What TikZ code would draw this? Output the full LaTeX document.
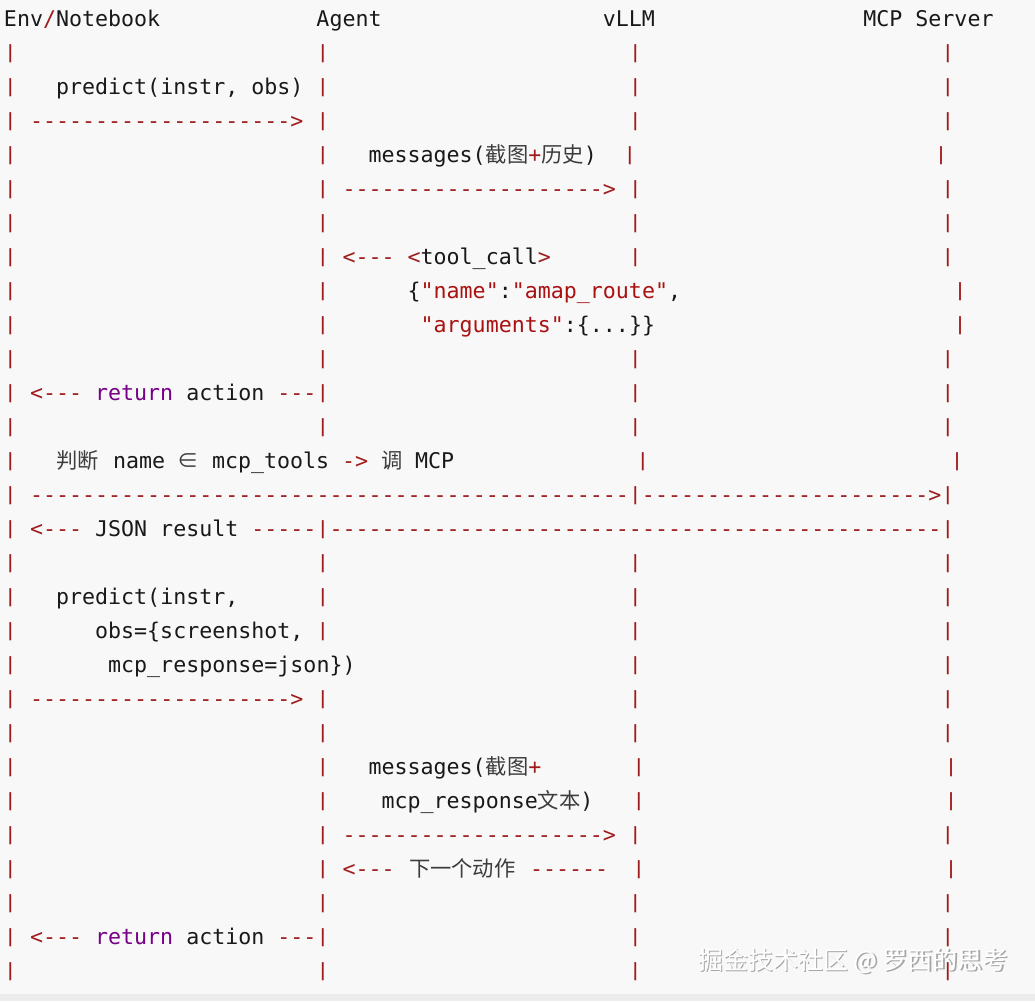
\documentclass[tikz,border=0pt]{standalone}
\usepackage{fontspec}
\setmonofont{DejaVu Sans Mono}
\newfontfamily\cjkf{Noto Sans CJK SC}
\definecolor{op}{RGB}{160,28,28}
\definecolor{str}{RGB}{170,17,17}
\definecolor{kw}{RGB}{119,0,136}
\definecolor{ink}{RGB}{25,25,25}
\definecolor{cjkc}{RGB}{60,60,60}
\definecolor{bg}{RGB}{248,248,248}
\definecolor{strip}{RGB}{236,236,236}
\newcommand\cj[1]{{\cjkf\fontsize{21.3}{26}\selectfont\color{cjkc}#1}}
\newcommand\opc[1]{\textcolor{op}{#1}}
\newcommand\stc[1]{\textcolor{str}{#1}}
\newcommand\barglyph{\raisebox{1.2pt}{\scalebox{1}[0.84]{|}}}
\ExplSyntaxOn
\NewDocumentCommand\dashes{m}{\prg_replicate:nn{#1}{-}}
\ExplSyntaxOff
\newcommand\tcol[4]{\node[tx] (#1) at ({4+(#3)*13.02},{26+34*((#2)-1)}) {#4};}
\newcommand\tpx[4]{\node[tx] (#1) at (#3,{26+34*((#2)-1)}) {#4};}
\newcommand\pcol[3]{\node[pipe] (#1) at ({4+((#3)+0.5)*13.02},{26+34*((#2)-1)}) {\barglyph};}
\newcommand\ppx[3]{\node[pipe] (#1) at (#3,{26+34*((#2)-1)}) {\barglyph};}
\begin{document}
\begin{tikzpicture}[x=1pt,y=-1pt,
  tx/.style={anchor=base west,inner sep=0pt,outer sep=0pt,font=\ttfamily\fontsize{21.63}{26}\selectfont,text=ink},
  pipe/.style={anchor=base,inner sep=0pt,outer sep=0pt,font=\ttfamily\fontsize{21.63}{26}\selectfont,text=op},
  wmark/.style={anchor=base west,inner sep=0pt,outer sep=0pt,font=\cjkf\fontsize{25}{30}\selectfont}]
\useasboundingbox (0,0) rectangle (1035,1001);
\fill[bg] (0,0) rectangle (1035,1001);
\fill[strip] (0,994) rectangle (1035,1001);
% watermark
\node[wmark,text=gray!70] (wms) at (699.5,970.5) {掘金技术社区 @ 罗西的思考};
\node[wmark,text=white] (wm) at (698,969) {掘金技术社区 @ 罗西的思考};
% header
\tcol{h1}{1}{0}{Env\opc{/}Notebook}
\tcol{h2}{1}{24}{Agent}
\tcol{h3}{1}{46}{vLLM}
\tcol{h4}{1}{66}{MCP Server}
% plain pipe rows
\foreach \r in {2,7,11,13,17,22,27,29}{
  \foreach \c in {0,24,48,72}{\pcol{p\r-\c}{\r}{\c}}
}
% row 3
\pcol{p3-0}{3}{0}\tcol{t3}{3}{4}{predict(instr, obs)}\pcol{p3-24}{3}{24}\pcol{p3-48}{3}{48}\pcol{p3-72}{3}{72}
% row 4
\pcol{p4-0}{4}{0}\tcol{t4}{4}{2}{\opc{\dashes{20}>}}\pcol{p4-24}{4}{24}\pcol{p4-48}{4}{48}\pcol{p4-72}{4}{72}
% row 5
\pcol{p5-0}{5}{0}\pcol{p5-24}{5}{24}\tcol{t5}{5}{28}{messages(\cj{截图}\opc{+}\cj{历史})}\ppx{p5-48}{5}{630}\ppx{p5-72}{5}{941}
% row 6
\pcol{p6-0}{6}{0}\pcol{p6-24}{6}{24}\tcol{t6}{6}{26}{\opc{\dashes{20}>}}\pcol{p6-48}{6}{48}\pcol{p6-72}{6}{72}
% row 8
\pcol{p8-0}{8}{0}\pcol{p8-24}{8}{24}\tcol{t8a}{8}{26}{\opc{<---}}\tcol{t8b}{8}{31}{\opc{<}tool\_call\opc{>}}\pcol{p8-48}{8}{48}\pcol{p8-72}{8}{72}
% row 9
\pcol{p9-0}{9}{0}\pcol{p9-24}{9}{24}\tcol{t9}{9}{31}{\{\stc{"name"}:\stc{"amap\_route"},}\ppx{p9-72}{9}{960}
% row 10
\pcol{p10-0}{10}{0}\pcol{p10-24}{10}{24}\tcol{t10}{10}{32}{\stc{"arguments"}:\{...\}\}}\ppx{p10-72}{10}{960}
% row 12
\pcol{p12-0}{12}{0}\tcol{t12a}{12}{2}{\opc{<---}}\tcol{t12b}{12}{7}{\textcolor{kw}{return}}\tcol{t12c}{12}{14}{action}\tcol{t12d}{12}{21}{\opc{---}}\pcol{p12-24}{12}{24}\pcol{p12-48}{12}{48}\pcol{p12-72}{12}{72}
% row 14
\pcol{p14-0}{14}{0}\tpx{t14a}{14}{56}{\cj{判断}}\tpx{t14b}{14}{113}{name}\tpx{t14c}{14}{177}{\cj{∈}}\tpx{t14d}{14}{212}{mcp\_tools \opc{->}}\tpx{t14e}{14}{381}{\cj{调}}\tpx{t14f}{14}{415}{MCP}\ppx{p14-48}{14}{643}\ppx{p14-72}{14}{957}
% row 15
\pcol{p15-0}{15}{0}\tcol{t15a}{15}{2}{\opc{\dashes{46}}}\pcol{p15-48}{15}{48}\tcol{t15b}{15}{49}{\opc{\dashes{22}>}}\pcol{p15-72}{15}{72}
% row 16
\pcol{p16-0}{16}{0}\tcol{t16a}{16}{2}{\opc{<---}}\tcol{t16b}{16}{7}{JSON result}\tcol{t16c}{16}{19}{\opc{\dashes{5}}}\pcol{p16-24}{16}{24}\tcol{t16d}{16}{25}{\opc{\dashes{47}}}\pcol{p16-72}{16}{72}
% row 18
\pcol{p18-0}{18}{0}\tcol{t18}{18}{4}{predict(instr,}\pcol{p18-24}{18}{24}\pcol{p18-48}{18}{48}\pcol{p18-72}{18}{72}
% row 19
\pcol{p19-0}{19}{0}\tcol{t19}{19}{7}{obs=\{screenshot,}\pcol{p19-24}{19}{24}\pcol{p19-48}{19}{48}\pcol{p19-72}{19}{72}
% row 20
\pcol{p20-0}{20}{0}\tcol{t20}{20}{8}{mcp\_response=json\})}\pcol{p20-48}{20}{48}\pcol{p20-72}{20}{72}
% row 21
\pcol{p21-0}{21}{0}\tcol{t21}{21}{2}{\opc{\dashes{20}>}}\pcol{p21-24}{21}{24}\pcol{p21-48}{21}{48}\pcol{p21-72}{21}{72}
% row 23
\pcol{p23-0}{23}{0}\pcol{p23-24}{23}{24}\tcol{t23}{23}{28}{messages(\cj{截图}\opc{+}}\ppx{p23-48}{23}{639}\ppx{p23-72}{23}{951}
% row 24
\pcol{p24-0}{24}{0}\pcol{p24-24}{24}{24}\tcol{t24}{24}{29}{mcp\_response\cj{文本})}\ppx{p24-48}{24}{639}\ppx{p24-72}{24}{951}
% row 25
\pcol{p25-0}{25}{0}\pcol{p25-24}{25}{24}\tcol{t25}{25}{26}{\opc{\dashes{20}>}}\pcol{p25-48}{25}{48}\pcol{p25-72}{25}{72}
% row 26
\pcol{p26-0}{26}{0}\pcol{p26-24}{26}{24}\tcol{t26a}{26}{26}{\opc{<---}}\tpx{t26b}{26}{409}{\cj{下一个动作}}\tpx{t26c}{26}{530}{\opc{\dashes{6}}}\ppx{p26-48}{26}{639}\ppx{p26-72}{26}{951}
% row 28
\pcol{p28-0}{28}{0}\tcol{t28a}{28}{2}{\opc{<---}}\tcol{t28b}{28}{7}{\textcolor{kw}{return}}\tcol{t28c}{28}{14}{action}\tcol{t28d}{28}{21}{\opc{---}}\pcol{p28-24}{28}{24}\pcol{p28-48}{28}{48}\pcol{p28-72}{28}{72}
\end{tikzpicture}
\end{document}
